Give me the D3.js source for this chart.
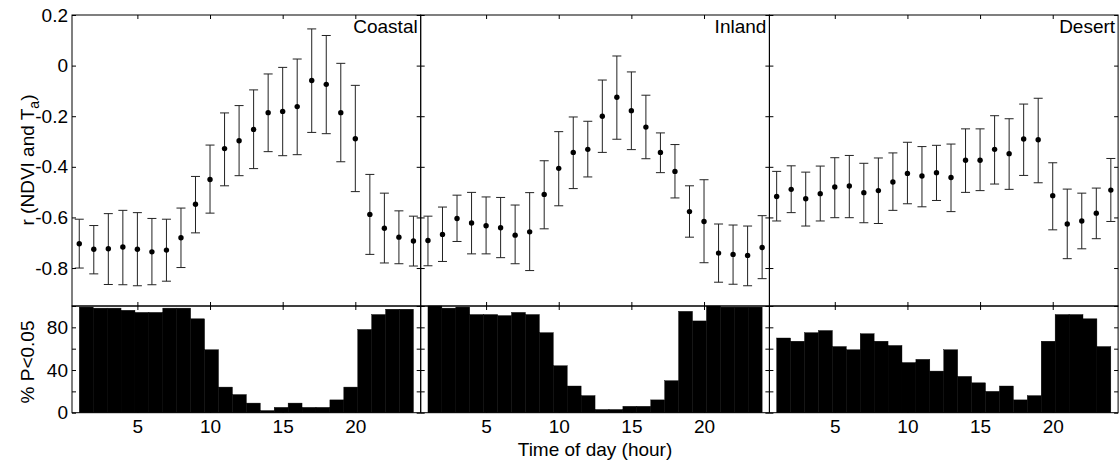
<!DOCTYPE html>
<html>
<head>
<meta charset="utf-8">
<script src="https://cdn.jsdelivr.net/npm/d3@7"></script>
<style>
  body { margin: 0; background: #fff; }
  svg { font-family: "Liberation Sans", Arial, sans-serif; }
</style>
</head>
<body>
<svg id="chart" width="1119" height="466"></svg>
<script>
// hours of day
const hours = [1, 2, 3, 4, 5, 6, 7, 8, 9, 10, 11, 12, 13, 14, 15, 16, 17, 18, 19, 20, 21, 22, 23, 24];
const regions = ['Coastal', 'Inland', 'Desert'];

// r (NDVI and Ta): mean, lower and upper whisker
const coastalR  = [-0.704, -0.726, -0.724, -0.717, -0.726, -0.736, -0.729, -0.680, -0.548, -0.450, -0.328, -0.297, -0.252, -0.186, -0.181, -0.162, -0.059, -0.074, -0.186, -0.289, -0.588, -0.643, -0.678, -0.693];
const coastalLo = [-0.800, -0.823, -0.865, -0.866, -0.870, -0.866, -0.852, -0.798, -0.661, -0.583, -0.475, -0.435, -0.407, -0.340, -0.356, -0.352, -0.264, -0.269, -0.380, -0.498, -0.746, -0.780, -0.783, -0.792];
const coastalHi = [-0.607, -0.632, -0.585, -0.572, -0.581, -0.604, -0.607, -0.563, -0.438, -0.314, -0.187, -0.158, -0.096, -0.033, -0.007, 0.026, 0.145, 0.119, 0.009, -0.078, -0.430, -0.504, -0.574, -0.595];

const inlandR  = [-0.691, -0.667, -0.604, -0.622, -0.633, -0.641, -0.670, -0.657, -0.509, -0.406, -0.343, -0.331, -0.200, -0.125, -0.178, -0.243, -0.343, -0.418, -0.577, -0.616, -0.741, -0.746, -0.750, -0.719];
const inlandLo = [-0.791, -0.774, -0.695, -0.744, -0.744, -0.759, -0.783, -0.810, -0.645, -0.554, -0.486, -0.440, -0.343, -0.291, -0.332, -0.368, -0.423, -0.523, -0.678, -0.779, -0.856, -0.864, -0.870, -0.842];
const inlandHi = [-0.595, -0.559, -0.512, -0.501, -0.519, -0.521, -0.551, -0.502, -0.376, -0.261, -0.203, -0.220, -0.057, 0.038, -0.025, -0.117, -0.266, -0.312, -0.475, -0.451, -0.626, -0.630, -0.634, -0.593];

const desertR  = [-0.517, -0.489, -0.526, -0.506, -0.480, -0.476, -0.502, -0.494, -0.460, -0.426, -0.436, -0.423, -0.442, -0.374, -0.374, -0.331, -0.348, -0.290, -0.293, -0.514, -0.626, -0.614, -0.583, -0.492];
const desertLo = [-0.614, -0.581, -0.634, -0.614, -0.601, -0.601, -0.621, -0.624, -0.572, -0.546, -0.558, -0.533, -0.577, -0.501, -0.494, -0.468, -0.489, -0.434, -0.463, -0.649, -0.763, -0.724, -0.684, -0.616];
const desertHi = [-0.418, -0.396, -0.421, -0.397, -0.364, -0.355, -0.386, -0.365, -0.345, -0.303, -0.320, -0.315, -0.310, -0.250, -0.250, -0.198, -0.210, -0.152, -0.129, -0.384, -0.488, -0.504, -0.484, -0.367];

// % of pixels with P < 0.05
const coastalPct = [99, 98, 98, 96, 94, 94, 98, 98, 88, 59, 24, 17, 9, 2, 5, 9, 5, 5, 12, 24, 78, 92, 97, 97];
const inlandPct  = [100, 98, 99, 92, 92, 91, 94, 92, 75, 44, 25, 16, 3, 3, 6, 6, 12, 30, 95, 86, 100, 99, 99, 99];
const desertPct  = [70, 67, 75, 77, 62, 59, 74, 67, 63, 47, 50, 39, 59, 34, 28, 20, 25, 12, 16, 67, 92, 92, 88, 62];

// ticks
const hourTicks = [5, 10, 15, 20];
const rTicks = [0.2, 0, -0.2, -0.4, -0.6, -0.8];
const pctTicks = [0, 20, 40, 60, 80, 100];
const pctTickLabels = ['0', '', '40', '', '80', ''];

const panels = [
    { name: regions[0], r: coastalR, lo: coastalLo, hi: coastalHi, pct: coastalPct },
    { name: regions[1], r: inlandR, lo: inlandLo, hi: inlandHi, pct: inlandPct },
    { name: regions[2], r: desertR, lo: desertLo, hi: desertHi, pct: desertPct }
];

const svg = d3.select('#chart');
const fontSize = 19;
const left0 = 72, panelW = 348.7;
const topY0 = 15, midY = 306, botY = 412.7;
const tick = 4;

const yR = d3.scaleLinear().domain([-0.95, 0.2]).range([midY, topY0]);
const yP = d3.scaleLinear().domain([0, 100]).range([botY, midY]);
const fmtR = d => d === 0 ? '0' : String(d);

function styleAxis(g) {
    g.select('.domain').remove();
    g.selectAll('line').attr('stroke', '#000');
    g.selectAll('text')
        .attr('font-size', fontSize)
        .attr('font-family', '"Liberation Sans", Arial, sans-serif')
        .attr('fill', '#000');
}

panels.forEach((p, i) => {
    const left = left0 + i * panelW;
    const right = left + panelW;
    const x = d3.scaleLinear().domain([0.5, 24.5]).range([left, right]);
    const band = d3.scaleBand().domain(hours).range([x(hours[0]), x(hours[hours.length - 1])]);
    const g = svg.append('g');

    // bars
    g.append('g')
        .selectAll('rect')
        .data(p.pct)
        .join('rect')
        .attr('x', (d, k) => band(hours[k]))
        .attr('width', band.bandwidth())
        .attr('y', d => yP(d))
        .attr('height', d => yP(0) - yP(d))
        .attr('fill', '#000')
        .attr('stroke', '#000')
        .attr('stroke-width', 0.4);

    // error bars
    const eb = g.append('g')
        .selectAll('g')
        .data(hours)
        .join('g');
    eb.append('line')
        .attr('x1', h => x(h)).attr('x2', h => x(h))
        .attr('y1', (h, k) => yR(p.lo[k])).attr('y2', (h, k) => yR(p.hi[k]))
        .attr('stroke', '#222');
    eb.append('line')
        .attr('x1', h => x(h) - 4.5).attr('x2', h => x(h) + 4.5)
        .attr('y1', (h, k) => yR(p.lo[k])).attr('y2', (h, k) => yR(p.lo[k]))
        .attr('stroke', '#222');
    eb.append('line')
        .attr('x1', h => x(h) - 4.5).attr('x2', h => x(h) + 4.5)
        .attr('y1', (h, k) => yR(p.hi[k])).attr('y2', (h, k) => yR(p.hi[k]))
        .attr('stroke', '#222');
    eb.append('circle')
        .attr('cx', h => x(h))
        .attr('cy', (h, k) => yR(p.r[k]))
        .attr('r', 2.7)
        .attr('fill', '#000');

    // axes, ticks inward
    g.append('g').attr('transform', `translate(${left},0)`)
        .call(d3.axisLeft(yR).tickValues(rTicks).tickSize(-tick).tickPadding(4)
            .tickFormat(i === 0 ? fmtR : ''))
        .call(styleAxis);
    g.append('g').attr('transform', `translate(${right},0)`)
        .call(d3.axisRight(yR).tickValues(rTicks).tickSize(-tick).tickFormat(''))
        .call(styleAxis);
    g.append('g').attr('transform', `translate(${left},0)`)
        .call(d3.axisLeft(yP).tickValues(pctTicks).tickSize(-tick).tickPadding(4)
            .tickFormat((d, k) => i === 0 ? pctTickLabels[k] : ''))
        .call(styleAxis);
    g.append('g').attr('transform', `translate(${right},0)`)
        .call(d3.axisRight(yP).tickValues(pctTicks).tickSize(-tick).tickFormat(''))
        .call(styleAxis);
    g.append('g').attr('transform', `translate(0,${topY0})`)
        .call(d3.axisTop(x).tickValues(hourTicks).tickSize(-tick).tickFormat(''))
        .call(styleAxis);
    g.append('g').attr('transform', `translate(0,${midY})`)
        .call(d3.axisBottom(x).tickValues(hourTicks).tickSize(-tick).tickFormat(''))
        .call(styleAxis);
    g.append('g').attr('transform', `translate(0,${midY})`)
        .call(d3.axisTop(x).tickValues(hourTicks).tickSize(-tick).tickFormat(''))
        .call(styleAxis);
    g.append('g').attr('transform', `translate(0,${botY})`)
        .call(d3.axisBottom(x).tickValues(hourTicks).tickSize(-tick).tickPadding(7))
        .call(styleAxis);

    // frames
    g.append('rect')
        .attr('x', left).attr('y', topY0)
        .attr('width', panelW).attr('height', midY - topY0)
        .attr('fill', 'none').attr('stroke', '#000');
    g.append('rect')
        .attr('x', left).attr('y', midY)
        .attr('width', panelW).attr('height', botY - midY)
        .attr('fill', 'none').attr('stroke', '#000');

    // region label
    g.append('text')
        .attr('x', right - 3)
        .attr('y', 33)
        .attr('text-anchor', 'end')
        .attr('font-size', fontSize)
        .text(p.name);
});

// axis titles
const yt = svg.append('text')
    .attr('transform', 'translate(34,160) rotate(-90)')
    .attr('text-anchor', 'middle')
    .attr('font-size', fontSize);
yt.append('tspan').text('r (NDVI and T');
yt.append('tspan').attr('font-size', 14).attr('dy', 5).text('a');
yt.append('tspan').attr('dy', -5).text(')');

svg.append('text')
    .attr('transform', 'translate(34,362) rotate(-90)')
    .attr('text-anchor', 'middle')
    .attr('font-size', fontSize)
    .text('% P<0.05');

svg.append('text')
    .attr('x', 595)
    .attr('y', 456)
    .attr('text-anchor', 'middle')
    .attr('font-size', fontSize)
    .text('Time of day (hour)');
</script>
</body>
</html>
